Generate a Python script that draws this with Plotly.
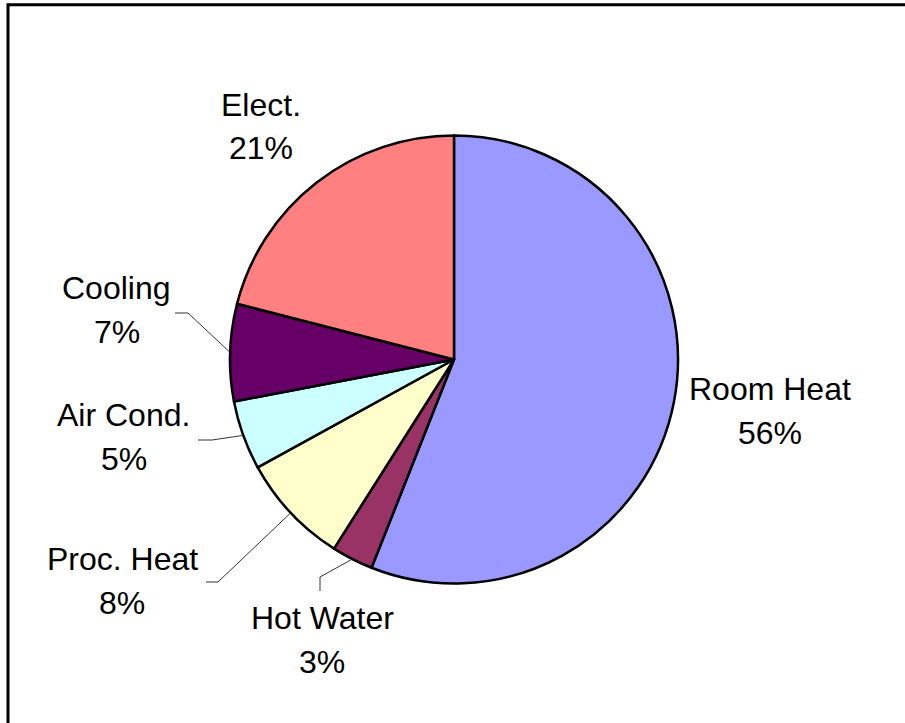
import math
import plotly.graph_objects as go

# Energy end-use shares (percent), clockwise from 12 o'clock
categories = ["Room Heat", "Hot Water", "Proc. Heat", "Air Cond.", "Cooling", "Elect."]
shares = [56, 3, 8, 5, 7, 21]
colors = ["#9999FF", "#993366", "#FFFFCC", "#CCFFFF", "#660066", "#FF8080"]

W, H = 905, 723
CX, CY, R = 454, 359.5, 224  # pie centre and radius in pixels

# Label placement: centre of the first text line (pixels), and optional leader elbow
label_pos = {
    "Room Heat": (770, 389),
    "Hot Water": (322, 618),
    "Proc. Heat": (122, 558.5),
    "Air Cond.": (124, 414.5),
    "Cooling": (116.5, 288),
    "Elect.": (260.5, 104.5),
}
leader_elbow = {
    "Hot Water": [(320, 591), (320, 577)],
    "Proc. Heat": [(206, 582), (218, 582)],
    "Air Cond.": [(198, 440), (212, 440)],
    "Cooling": [(175, 313), (188, 313)],
}
LINE_GAP = 44


def px(x):
    return x / W


def py(y):
    return 1 - y / H


fig = go.Figure(
    go.Pie(
        labels=categories,
        values=shares,
        sort=False,
        direction="clockwise",
        rotation=0,
        marker=dict(colors=colors, line=dict(color="black", width=2.5)),
        textinfo="none",
        hoverinfo="label+percent",
        showlegend=False,
        domain=dict(x=[px(CX - R), px(CX + R)], y=[py(CY + R), py(CY - R)]),
    )
)

font = dict(family="Liberation Sans, Arial, sans-serif", size=32, color="black")
annotations = []
shapes = []
total = sum(shares)
cum = 0
for name, val in zip(categories, shares):
    mid = (cum + val / 2) / total * 2 * math.pi
    cum += val
    lx, ly = label_pos[name]
    annotations.append(dict(x=px(lx), y=py(ly), xref="paper", yref="paper",
                            text=name, showarrow=False, font=font,
                            xanchor="center", yanchor="middle"))
    annotations.append(dict(x=px(lx), y=py(ly + LINE_GAP), xref="paper", yref="paper",
                            text=f"{val}%", showarrow=False, font=font,
                            xanchor="center", yanchor="middle"))
    if name in leader_elbow:
        ex = CX + R * math.sin(mid)
        ey = CY - R * math.cos(mid)
        pts = leader_elbow[name] + [(ex, ey)]
        path = "M " + " L ".join(f"{px(a)},{py(b)}" for a, b in pts)
        shapes.append(dict(type="path", path=path, xref="paper", yref="paper",
                           line=dict(color="#333333", width=1)))

# chart frame (only top and left edges fall inside the canvas)
shapes.append(dict(type="rect", xref="paper", yref="paper",
                   x0=px(8), x1=1.3, y0=-0.3, y1=py(4.8),
                   line=dict(color="black", width=3), fillcolor="rgba(0,0,0,0)"))

fig.update_layout(
    width=W, height=H,
    margin=dict(l=0, r=0, t=0, b=0),
    paper_bgcolor="white",
    plot_bgcolor="white",
    annotations=annotations,
    shapes=shapes,
)

fig.write_html("out.html")
